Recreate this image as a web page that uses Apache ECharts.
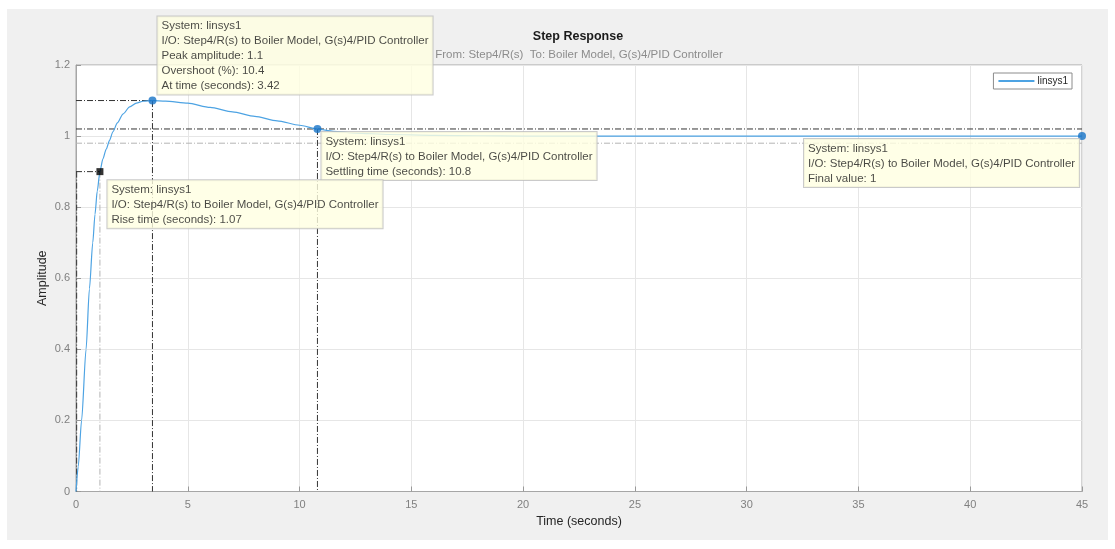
<!DOCTYPE html>
<html>
<head>
<meta charset="utf-8">
<title>Step Response</title>
<script src="https://cdn.jsdelivr.net/npm/echarts@6/dist/echarts.min.js"></script>
<style>
  html, body { margin: 0; padding: 0; background: #ffffff; }
  #chart { width: 1115px; height: 549px; }
</style>
</head>
<body>
<div id="chart"></div>
<script>
// Step response of linsys1 (time in seconds, amplitude)
const timeSec = [0, 0.1, 0.25, 0.45, 0.6, 0.75, 0.85, 0.95, 1.07, 1.2, 1.35, 1.5, 1.65, 1.85, 2.1, 2.4, 2.7, 3.0, 3.42, 4, 5, 6, 7, 8, 9, 10, 10.8, 11.5, 12.5, 14, 16, 18, 20, 25, 30, 35, 40, 45];
const amplitude = [0, 0.07, 0.2, 0.4, 0.57, 0.7, 0.78, 0.845, 0.9, 0.935, 0.963, 0.988, 1.012, 1.037, 1.062, 1.082, 1.093, 1.098, 1.1, 1.0985, 1.0925, 1.0805, 1.068, 1.0555, 1.043, 1.0305, 1.02, 1.0135, 1.0085, 1.0045, 1.002, 1.001, 1.0, 1.0, 1.0, 1.0, 1.0, 1.0];

// Response characteristics
const riseTime = 1.07, riseLevel = 0.9;
const peakTime = 3.42, peakAmp = 1.1, overshoot = 10.4;
const settleTime = 10.8, settleHi = 1.02, settleLo = 0.98;
const finalTime = 45, finalValue = 1;

// Axis ticks
const xTicks = [0, 5, 10, 15, 20, 25, 30, 35, 40, 45];
const yTicks = [0, 0.2, 0.4, 0.6, 0.8, 1, 1.2];

const sysLine = 'System: linsys1';
const ioLine = 'I/O: Step4/R(s) to Boiler Model, G(s)4/PID Controller';

const FONT = '"Liberation Sans", Arial, Helvetica, sans-serif';
const DARK = '#333333';
const LIGHT = '#b4b4b4';
const DASHDOT = [6, 2, 1, 2];

const curve = timeSec.map((t, i) => [t, amplitude[i]]);

function guide(points, color) {
  return {
    type: 'line', data: points, symbol: 'none', silent: true, z: 1,
    lineStyle: { color: color, width: 1, type: DASHDOT }
  };
}

const tipLabel = (lines, pos) => ({
  show: true,
  position: pos,
  formatter: lines.join('\n'),
  fontFamily: FONT,
  fontSize: 11.5,
  lineHeight: 15,
  color: '#1a1a1a',
  backgroundColor: '#ffffe1',
  borderColor: '#bdbdbd',
  borderWidth: 1,
  padding: [2, 4, 1, 4],
  align: 'left',
  verticalAlign: 'top'
});

const chart = echarts.init(document.getElementById('chart'));

chart.setOption({
  animation: false,
  graphic: [
    { type: 'rect', shape: { x: 7, y: 9, width: 1101, height: 531 }, style: { fill: '#f0f0f0' }, z: -100, silent: true },
    { type: 'text', x: 578, y: 30, z: 10, style: { text: 'Step Response', font: 'bold 12.5px ' + FONT, fill: '#1a1a1a', align: 'center' } },
    { type: 'text', x: 579, y: 49, z: 10, style: { text: 'From: Step4/R(s)  To: Boiler Model, G(s)4/PID Controller', font: '11.5px ' + FONT, fill: '#8c8c8c', align: 'center' } }
  ],
  grid: {
    left: 76, right: 33, top: 65, bottom: 57.5,
    show: true, backgroundColor: '#ffffff', borderColor: '#a6a6a6', borderWidth: 1
  },
  legend: {
    data: ['linsys1'],
    right: 43, top: 73,
    itemWidth: 36, itemHeight: 8, itemGap: 2,
    itemStyle: { opacity: 0 },
    backgroundColor: '#ffffff', borderColor: '#8c8c8c', borderWidth: 1,
    padding: [3, 4, 3, 4],
    textStyle: { fontFamily: FONT, fontSize: 10, color: '#262626', padding: [0, 0, 0, -2] }
  },
  xAxis: {
    type: 'value', min: 0, max: 45, interval: 5,
    name: 'Time (seconds)', nameLocation: 'middle', nameGap: 24,
    nameTextStyle: { fontFamily: FONT, fontSize: 12.5, color: '#262626' },
    axisLine: { lineStyle: { color: '#a6a6a6' } },
    axisTick: { inside: true, length: 5, lineStyle: { color: '#999999' } },
    axisLabel: { fontFamily: FONT, fontSize: 11, color: '#808080', margin: 8,
      customValues: xTicks },
    splitLine: { show: true, lineStyle: { color: '#e6e6e6' } }
  },
  yAxis: {
    type: 'value', min: 0, max: 1.2, interval: 0.2,
    name: 'Amplitude', nameLocation: 'middle', nameGap: 27, nameRotate: 90,
    nameMoveOverlap: false,
    nameTextStyle: { fontFamily: FONT, fontSize: 12.5, color: '#262626' },
    axisLine: { show: true, lineStyle: { color: '#a6a6a6' } },
    axisTick: { show: true, inside: true, length: 5, lineStyle: { color: '#999999' } },
    axisLabel: { fontFamily: FONT, fontSize: 11, color: '#808080', margin: 6,
      formatter: v => yTicks.includes(Math.round(v * 10) / 10) ? String(Math.round(v * 10) / 10) : '' },
    splitLine: { show: true, lineStyle: { color: '#e6e6e6' } }
  },
  series: [
    // settling band
    guide([[0, settleHi], [finalTime, settleHi]], DARK),
    guide([[0, settleLo], [finalTime, settleLo]], LIGHT),
    guide([[settleTime, settleHi], [settleTime, 0]], DARK),
    // peak
    guide([[0, peakAmp], [peakTime, peakAmp], [peakTime, 0]], DARK),
    // rise time
    guide([[0, riseLevel], [riseTime, riseLevel]], DARK),
    guide([[0.03, riseLevel], [0.03, 0]], DARK),
    guide([[riseTime, riseLevel], [riseTime, 0]], LIGHT),
    {
      name: 'linsys1', type: 'line', data: curve,
      smooth: 0.25, smoothMonotone: 'x',
      symbol: 'none', z: 3,
      lineStyle: { color: '#4da3e3', width: 1.2 },
      itemStyle: { color: '#4da3e3' }
    },
    {
      type: 'scatter', z: 5, silent: true,
      symbol: 'circle', symbolSize: 8,
      itemStyle: { color: '#1673c7' },
      data: [
        { value: [peakTime, peakAmp],
          label: tipLabel([sysLine, ioLine, 'Peak amplitude: ' + peakAmp, 'Overshoot (%): ' + overshoot, 'At time (seconds): ' + peakTime], [9, -80]) },
        { value: [settleTime, settleHi],
          label: tipLabel([sysLine, ioLine, 'Settling time (seconds): ' + settleTime], [8, 7]) },
        { value: [finalTime, finalValue],
          label: tipLabel([sysLine, ioLine, 'Final value: ' + finalValue], [-274, 7]) }
      ]
    },
    {
      type: 'scatter', z: 5, silent: true,
      symbol: 'rect', symbolSize: 7,
      itemStyle: { color: '#000000' },
      data: [
        { value: [riseTime, riseLevel],
          label: tipLabel([sysLine, ioLine, 'Rise time (seconds): ' + riseTime], [11, 12]) }
      ]
    }
  ]
});
</script>
</body>
</html>
